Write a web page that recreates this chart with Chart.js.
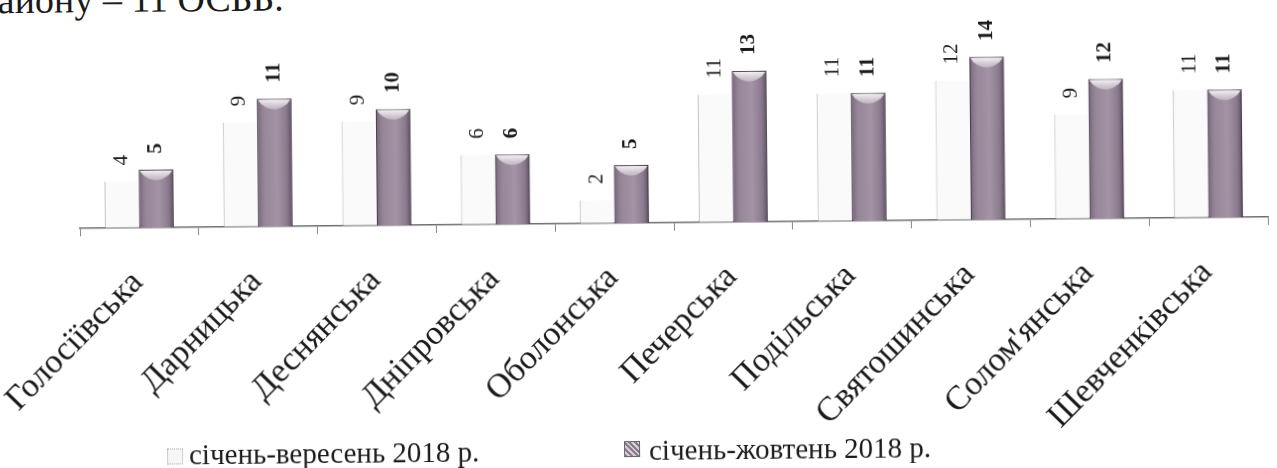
<!DOCTYPE html>
<html>
<head>
<meta charset="utf-8">
<script src="https://cdn.jsdelivr.net/npm/chart.js@4/dist/chart.umd.min.js"></script>
<style>
  html, body { margin: 0; padding: 0; background: #fff; overflow: hidden; }
  #page { position: relative; width: 1277px; height: 468px; transform: rotate(-0.55deg); transform-origin: 50% 50%; }
  #chart { position: absolute; left: 0; top: 0; }
  .txt { position: absolute; font-family: "Liberation Serif", serif; color: #1a1a1a; white-space: nowrap; }
  #head { left: -19px; top: -25px; font-size: 38px; line-height: 38px; }
  .leg { font-size: 29px; line-height: 29px; top: 436px; }
  .box { position: absolute; width: 14px; height: 14px; }
</style>
</head>
<body>
<div id="page">
  <div id="head" class="txt">району – 11 ОСББ.</div>
  <canvas id="chart" width="1277" height="468"></canvas>
  <div id="legend"></div>
</div>
<script>
// districts and counts
const districts = ['Голосіївська', 'Дарницька', 'Деснянська', 'Дніпровська', 'Оболонська',
  'Печерська', 'Подільська', 'Святошинська', "Солом'янська", 'Шевченківська'];
const janSep = [4, 9, 9, 6, 2, 11, 11, 12, 9, 11];
const janOct = [5, 11, 10, 6, 5, 13, 11, 14, 12, 11];
const seriesLabels = ['січень-вересень 2018 р.', 'січень-жовтень 2018 р.'];

const serif = '"Liberation Serif", serif';

// shading of the dark bars + value labels
const barDecor = {
  id: 'barDecor',
  afterDatasetsDraw(chart) {
    const ctx = chart.ctx;
    const meta = chart.getDatasetMeta(1);
    meta.data.forEach(function (bar) {
      const l = bar.x - bar.width / 2, r = bar.x + bar.width / 2;
      const top = bar.y, bottom = bar.base;
      ctx.save();
      const g = ctx.createLinearGradient(l, 0, r, 0);
      g.addColorStop(0, 'rgba(70,55,75,0.5)');
      g.addColorStop(0.25, 'rgba(150,135,152,0.1)');
      g.addColorStop(0.55, 'rgba(200,188,202,0.2)');
      g.addColorStop(0.85, 'rgba(90,75,95,0.25)');
      g.addColorStop(1, 'rgba(50,40,55,0.65)');
      ctx.fillStyle = g;
      ctx.fillRect(l, top, r - l, bottom - top);
      // top bevel
      const h = ctx.createLinearGradient(0, top, 0, top + 12);
      h.addColorStop(0, 'rgba(255,255,255,0.95)');
      h.addColorStop(1, 'rgba(215,205,215,0.5)');
      ctx.beginPath();
      ctx.moveTo(l + 1, top + 1);
      ctx.lineTo(r - 1, top + 1);
      ctx.lineTo(r - 4, top + 5);
      ctx.quadraticCurveTo(bar.x, top + 16, l + 4, top + 5);
      ctx.closePath();
      ctx.fillStyle = h;
      ctx.fill();
      ctx.restore();
    });

    [0, 1].forEach(function (di) {
      const m = chart.getDatasetMeta(di);
      const vals = chart.data.datasets[di].data;
      m.data.forEach(function (bar, i) {
        ctx.save();
        ctx.translate(bar.x, bar.y - 16);
        ctx.rotate(-Math.PI / 2);
        ctx.font = (di === 1 ? 'bold ' : '') + '21px ' + serif;
        ctx.fillStyle = '#1a1a1a';
        ctx.textAlign = 'left';
        ctx.textBaseline = 'middle';
        ctx.fillText(String(vals[i]), 0, 0);
        ctx.restore();
      });
    });
  }
};

new Chart(document.getElementById('chart').getContext('2d'), {
  type: 'bar',
  data: {
    labels: districts,
    datasets: [
      {
        label: seriesLabels[0],
        data: janSep,
        backgroundColor: 'rgba(245,245,245,0.5)',
        borderColor: 'rgba(150,150,150,0.6)',
        borderWidth: { left: 1, top: 0, right: 0, bottom: 0 },
        borderSkipped: false,
        categoryPercentage: 0.58,
        barPercentage: 1.0
      },
      {
        label: seriesLabels[1],
        data: janOct,
        backgroundColor: '#9a899c',
        borderColor: '#4e4252',
        borderWidth: 1,
        categoryPercentage: 0.58,
        barPercentage: 1.0
      }
    ]
  },
  options: {
    responsive: false,
    animation: false,
    devicePixelRatio: 1,
    layout: { padding: { left: 80, right: 9, top: 37, bottom: 0 } },
    plugins: { legend: { display: false }, tooltip: { enabled: false } },
    scales: {
      x: {
        offset: true,
        border: { display: true, color: '#707070', width: 1.5, dash: [2, 1] },
        grid: { display: true, drawOnChartArea: false, drawTicks: true, tickLength: 8, color: '#888', offset: true },
        ticks: {
          autoSkip: false, minRotation: 45, maxRotation: 45, padding: 27, labelOffset: -2,
          color: '#1a1a1a', font: { family: serif, size: 34 }
        },
        afterFit(scale) {
          scale.height = 245;
          scale.paddingLeft = 0;
          scale.paddingRight = 0;
        }
      },
      y: { display: false, min: 0, max: 16 }
    }
  },
  plugins: [barDecor]
});

// legend
const legend = document.getElementById('legend');
const legPos = [{ box: 165, text: 187, style: 'border:1px dotted #aaa;background:#f6f6f6;top:444px' },
                { box: 622, text: 647, style: 'border:1px solid #666;background:repeating-linear-gradient(45deg,#8a7a8c 0 2px,#d8d0d8 2px 4px);top:441px' }];
seriesLabels.forEach(function (lab, i) {
  const b = document.createElement('div');
  b.className = 'box';
  b.style.cssText = legPos[i].style + ';left:' + legPos[i].box + 'px';
  legend.appendChild(b);
  const t = document.createElement('div');
  t.className = 'txt leg';
  t.style.left = legPos[i].text + 'px';
  t.textContent = lab;
  legend.appendChild(t);
});
</script>
</body>
</html>
